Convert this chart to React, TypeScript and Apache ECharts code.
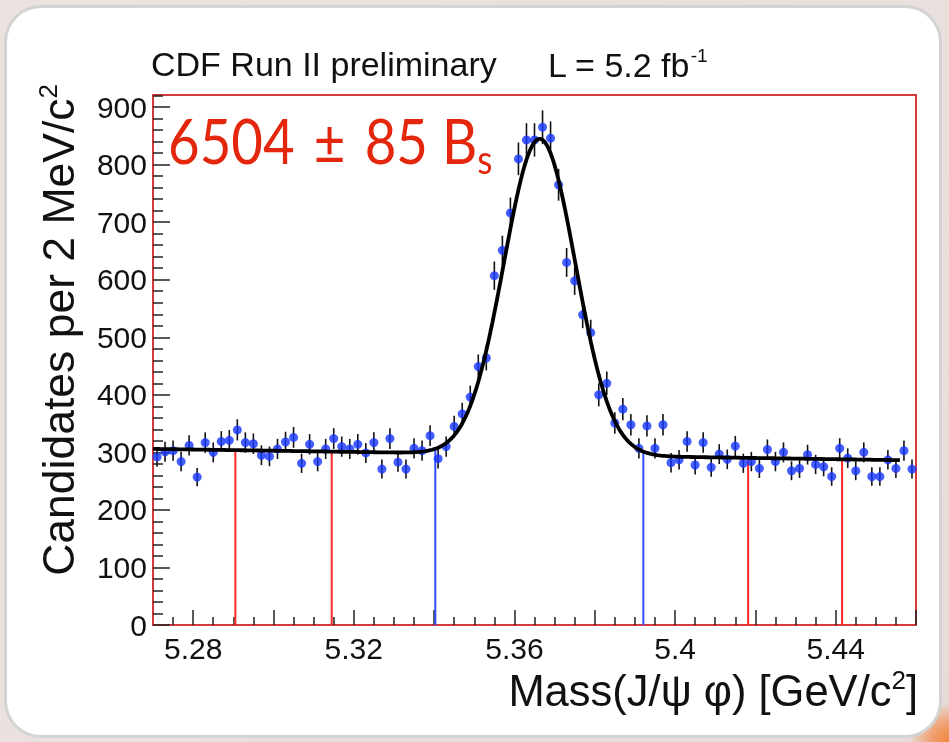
import React, { useEffect, useRef } from "react";
import * as echarts from "echarts";

// ---- axis ranges / ticks ----
const X_MIN = 5.27;
const X_MAX = 5.46;
const Y_MIN = 0;
const Y_MAX = 921;
const xLabelValues = [5.28, 5.32, 5.36, 5.4, 5.44];
const xMajorTicks = [5.28, 5.3, 5.32, 5.34, 5.36, 5.38, 5.4, 5.42, 5.44, 5.46];
const xMinorTicks = [5.275, 5.285, 5.29, 5.295, 5.305, 5.31, 5.315, 5.325, 5.33, 5.335, 5.345, 5.35, 5.355, 5.365, 5.37, 5.375, 5.385, 5.39, 5.395, 5.405, 5.41, 5.415, 5.425, 5.43, 5.435, 5.445, 5.45, 5.455];
const yLabelValues = [0, 100, 200, 300, 400, 500, 600, 700, 800, 900];
const yMinorTicks = [20, 40, 60, 80, 120, 140, 160, 180, 220, 240, 260, 280, 320, 340, 360, 380, 420, 440, 460, 480, 520, 540, 560, 580, 620, 640, 660, 680, 720, 740, 760, 780, 820, 840, 860, 880, 920];

// ---- histogram: 2 MeV bins starting at 5.270 GeV ----
const BIN_START = 5.27;
const BIN_WIDTH = 0.002;
const counts = [
  292, 301, 303, 284, 312, 257, 317, 300, 319, 321,
  339, 317, 315, 295, 293, 306, 318, 326, 281, 314,
  284, 306, 324, 310, 306, 314, 299, 317, 271, 324,
  283, 271, 307, 303, 329, 289, 310, 345, 367, 396,
  449, 464, 607, 651, 716, 810, 843, 843, 865, 846,
  765, 630, 598, 539, 508, 400, 420, 351, 375, 348,
  307, 346, 307, 348, 282, 287, 319, 278, 317, 274,
  297, 288, 311, 281, 284, 272, 305, 284, 300, 268,
  272, 296, 279, 275, 258, 307, 290, 268, 300, 258,
  258, 287, 272, 303, 271,
];

// ---- fit (gaussian signal + linear background) ----
const FIT_MEAN = 5.3663;
const FIT_SIGMA = 0.0089;
const FIT_AMP = 549;
const BG_AT_LEFT = 306; // at 5.27
const BG_AT_RIGHT = 286; // at 5.46
const FIT_START = 5.27;
const FIT_END = 5.456;
const FIT_STEP = 0.0005;

// ---- region boundaries ----
const sidebandEdges = [5.2905, 5.3145, 5.4182, 5.4416];
const signalEdges = [5.3403, 5.3921];

const FONT = "'Liberation Sans', Arial, Helvetica, sans-serif";
const RED_FONT = "Lato, 'Open Sans', sans-serif";
const FRAME_RED = "#d6393a";

function fitValue(m: number): number {
  const bg = BG_AT_LEFT + ((BG_AT_RIGHT - BG_AT_LEFT) * (m - X_MIN)) / (X_MAX - X_MIN);
  const z = (m - FIT_MEAN) / FIT_SIGMA;
  return bg + FIT_AMP * Math.exp(-0.5 * z * z);
}

export default function App() {
  const ref = useRef<HTMLDivElement>(null);

  useEffect(() => {
    if (!ref.current) return;
    const chart = echarts.init(ref.current, undefined, { renderer: "svg" });

    const points = counts.map((c, i) => [BIN_START + BIN_WIDTH * (i + 0.5), c, Math.sqrt(c)]);
    const fitData: number[][] = [];
    for (let m = FIT_START; m <= FIT_END + 1e-9; m += FIT_STEP) fitData.push([m, fitValue(m)]);
    const vlines = [
      ...sidebandEdges.map((m) => [m, fitValue(m), 0]),
      ...signalEdges.map((m) => [m, fitValue(m), 1]),
    ];

    const axisLabelBase = { fontFamily: FONT, fontSize: 30, color: "#111" };

    chart.setOption({
      animation: false,
      backgroundColor: "transparent",
      grid: {
        left: 153,
        top: 95,
        right: 33,
        bottom: 117,
        show: true,
        borderColor: FRAME_RED,
        borderWidth: 2,
        backgroundColor: "transparent",
      },
      xAxis: [
        {
          type: "value",
          min: X_MIN,
          max: X_MAX,
          position: "bottom",
          axisLine: { show: true, lineStyle: { color: FRAME_RED, width: 2 } },
          axisTick: { show: true, inside: true, length: 15, customValues: xMajorTicks, lineStyle: { color: "#222", width: 1.5 } },
          axisLabel: {
            ...axisLabelBase,
            customValues: xLabelValues,
            margin: 8,
            formatter: (v: number) => String(Math.round(v * 100) / 100),
          },
          splitLine: { show: false },
        },
        {
          type: "value",
          min: X_MIN,
          max: X_MAX,
          position: "bottom",
          axisLine: { show: false },
          axisTick: { show: true, inside: true, length: 8, customValues: xMinorTicks, lineStyle: { color: "#222", width: 1.5 } },
          axisLabel: { show: false },
          splitLine: { show: false },
        },
      ],
      yAxis: [
        {
          type: "value",
          min: Y_MIN,
          max: Y_MAX,
          position: "left",
          axisLine: { show: true, lineStyle: { color: FRAME_RED, width: 2 } },
          axisTick: { show: true, inside: true, length: 17, customValues: yLabelValues, lineStyle: { color: "#222", width: 1.5 } },
          axisLabel: { ...axisLabelBase, customValues: yLabelValues, margin: 6 },
          splitLine: { show: false },
        },
        {
          type: "value",
          min: Y_MIN,
          max: Y_MAX,
          position: "left",
          axisLine: { show: false },
          axisTick: { show: true, inside: true, length: 10, customValues: yMinorTicks, lineStyle: { color: "#222", width: 1.5 } },
          axisLabel: { show: false },
          splitLine: { show: false },
        },
      ],
      series: [
        {
          type: "custom",
          name: "regions",
          xAxisIndex: 0,
          yAxisIndex: 0,
          z: 1,
          data: vlines,
          renderItem: (params: any, api: any) => {
            const m = api.value(0);
            const top = api.value(1);
            const kind = api.value(2);
            const p0 = api.coord([m, 0]);
            const p1 = api.coord([m, top]);
            return {
              type: "line",
              shape: { x1: p0[0], y1: p0[1], x2: p1[0], y2: p1[1] },
              style: { stroke: kind === 0 ? "#ff2626" : "#3050ff", lineWidth: 2 },
            };
          },
        },
        {
          type: "custom",
          name: "errors",
          xAxisIndex: 0,
          yAxisIndex: 0,
          z: 2,
          data: points,
          renderItem: (params: any, api: any) => {
            const m = api.value(0);
            const v = api.value(1);
            const e = api.value(2);
            const p0 = api.coord([m, v - e]);
            const p1 = api.coord([m, v + e]);
            return {
              type: "line",
              shape: { x1: p0[0], y1: p0[1], x2: p1[0], y2: p1[1] },
              style: { stroke: "#111", lineWidth: 1.6 },
            };
          },
        },
        {
          type: "scatter",
          name: "data",
          xAxisIndex: 0,
          yAxisIndex: 0,
          z: 3,
          symbol: "circle",
          symbolSize: 9,
          itemStyle: { color: "#1434ff" },
          data: points.map((p) => [p[0], p[1]]),
        },
        {
          type: "line",
          name: "fit",
          xAxisIndex: 0,
          yAxisIndex: 0,
          z: 4,
          showSymbol: false,
          symbol: "none",
          lineStyle: { color: "#000", width: 3.8 },
          data: fitData,
        },
      ],
      graphic: [
        {
          type: "text",
          x: 151,
          y: 64,
          style: { text: "CDF Run II preliminary", font: `34px ${FONT}`, fill: "#111", verticalAlign: "middle" },
        },
        {
          type: "text",
          x: 548,
          y: 64,
          style: {
            text: "{n|L = 5.2 fb}{s|-1}",
            fill: "#111",
            verticalAlign: "middle",
            rich: {
              n: { fontFamily: FONT, fontSize: 34, lineHeight: 36, verticalAlign: "bottom", fill: "#111" },
              s: { fontFamily: FONT, fontSize: 19, lineHeight: 19, verticalAlign: "top", fill: "#111" },
            },
          },
        },
        {
          type: "text",
          x: 168,
          y: 140,
          scaleX: 0.88,
          style: {
            text: "{n|6504 }{p|±}{n| 85 B}{s|s}",
            verticalAlign: "middle",
            rich: {
              n: { fontFamily: RED_FONT, fontSize: 62, lineHeight: 62, verticalAlign: "top", fill: "#e3260c" },
              p: { fontFamily: RED_FONT, fontSize: 62, lineHeight: 62, verticalAlign: "top", fill: "#e3260c", padding: [0, 6, 0, 6] },
              s: { fontFamily: RED_FONT, fontSize: 40, lineHeight: 40, verticalAlign: "bottom", fill: "#e3260c", padding: [0, 0, -8, 0] },
            },
          },
        },
        {
          type: "text",
          x: 58,
          y: 84,
          rotation: Math.PI / 2,
          style: {
            text: "{n|Candidates per 2 MeV/c}{s|2}",
            align: "right",
            verticalAlign: "middle",
            rich: {
              n: { fontFamily: FONT, fontSize: 44.5, lineHeight: 46, verticalAlign: "bottom", fill: "#111" },
              s: { fontFamily: FONT, fontSize: 26, lineHeight: 26, verticalAlign: "top", fill: "#111" },
            },
          },
        },
        {
          type: "text",
          x: 918,
          y: 690,
          style: {
            text: "{n|Mass(J/ψ φ) [GeV/c}{s|2}{n|]}",
            align: "right",
            verticalAlign: "middle",
            rich: {
              n: { fontFamily: FONT, fontSize: 43.5, lineHeight: 46, verticalAlign: "bottom", fill: "#111" },
              s: { fontFamily: FONT, fontSize: 26, lineHeight: 26, verticalAlign: "top", fill: "#111" },
            },
          },
        },
      ],
    });

    return () => chart.dispose();
  }, []);

  return (
    <div
      style={{
        position: "fixed",
        left: 0,
        top: 0,
        width: 949,
        height: 742,
        background: "radial-gradient(circle at 100% 100%, #f0843c 0px, #f0a070 18px, #e6dcda 40px, #ece2df 100%)",
        overflow: "hidden",
      }}
    >
      <div
        style={{
          position: "absolute",
          left: 7,
          top: 8,
          width: 932,
          height: 727,
          borderRadius: 34,
          background: "#fff",
          boxShadow: "0 0 0 3px #d3d3d3",
        }}
      />
      <div ref={ref} style={{ position: "absolute", left: 0, top: 0, width: 949, height: 742 }} />
    </div>
  );
}
